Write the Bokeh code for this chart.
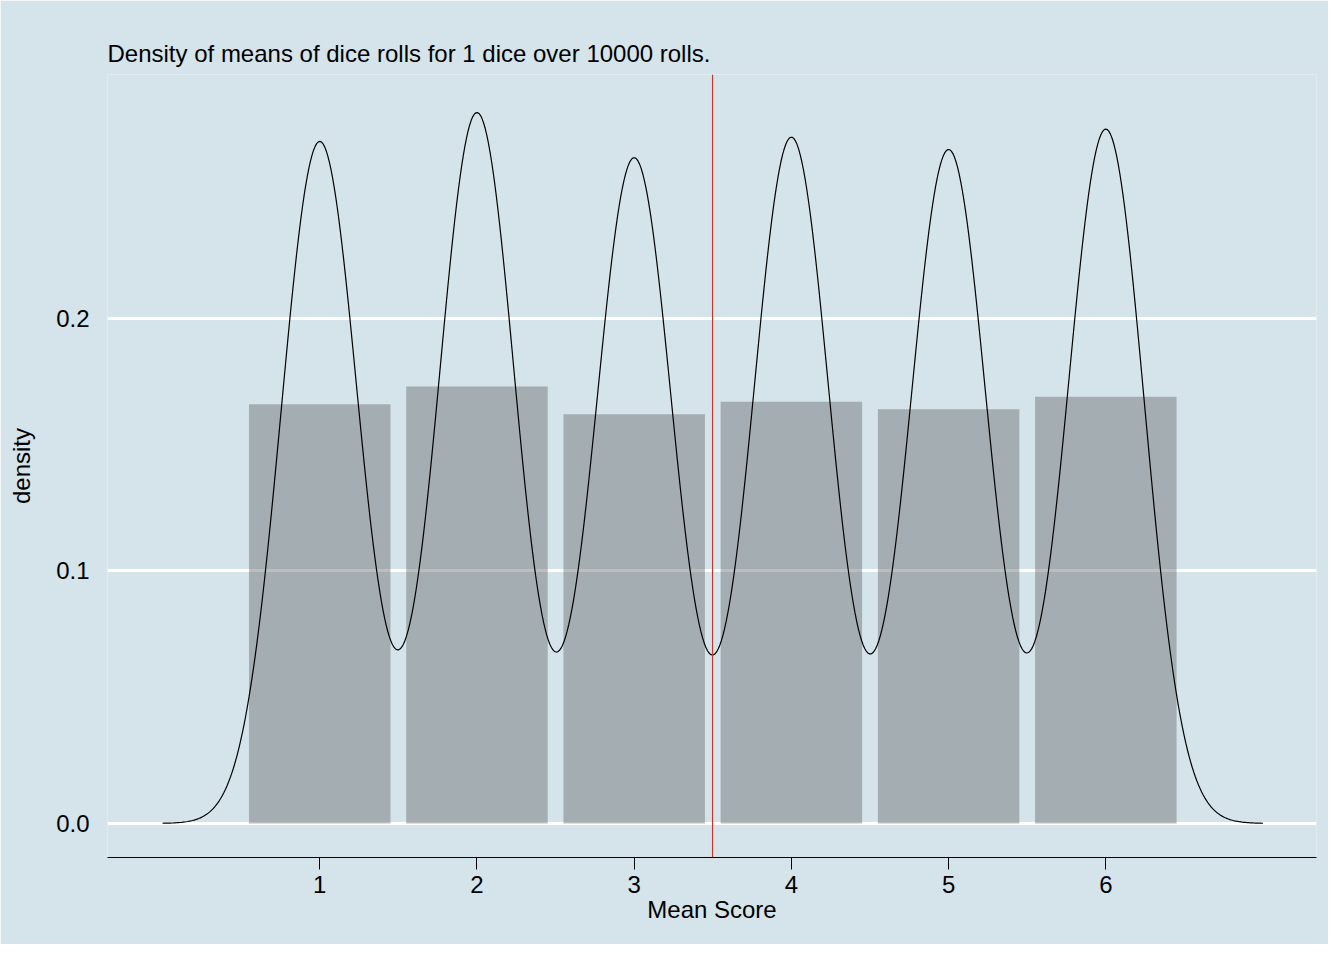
import numpy as np
from bokeh.plotting import figure
from bokeh.models import Range1d, Span, FixedTicker, Title
from bokeh.embed import file_html
from bokeh.resources import INLINE

faces = [1, 2, 3, 4, 5, 6]
density = [0.166, 0.173, 0.162, 0.167, 0.164, 0.169]
mean_score = 3.4985
bandwidth = 0.245
n_rolls = 10000

# gaussian kernel density of the rolls (weights from the histogram)
w = np.array(density) / sum(density)
xs = np.linspace(min(faces) - 1.0, max(faces) + 1.0, 700)
ys = np.zeros_like(xs)
for f, wt in zip(faces, w):
    ys += wt * np.exp(-0.5 * ((xs - f) / bandwidth) ** 2) / (bandwidth * np.sqrt(2 * np.pi))

bg = "#d5e4eb"
font = "Liberation Sans"

p = figure(width=1328, height=944, output_backend="svg", toolbar_location=None,
           x_range=Range1d(-0.35, 7.34), y_range=Range1d(-0.0135, 0.2966),
           min_border_left=107, min_border_right=12, min_border_top=74, min_border_bottom=87)
p.background_fill_color = bg
p.border_fill_color = bg
p.outline_line_color = None

p.add_layout(Title(text=f"Density of means of dice rolls for 1 dice over {n_rolls} rolls.",
                   text_font=font, text_font_size="24px", text_font_style="normal",
                   text_color="black", offset=0, standoff=16), "above")

p.xgrid.grid_line_color = None
p.ygrid.grid_line_color = "white"
p.ygrid.grid_line_width = 3
p.ygrid.ticker = FixedTicker(ticks=[0, 0.1, 0.2])

p.vbar(x=faces, top=density, width=0.9, fill_color="#595959", fill_alpha=0.4, line_color=None)
p.line(xs, ys, line_color="black", line_width=1.2)
p.add_layout(Span(location=mean_score, dimension="height", line_color="#c0392b", line_width=1.2))

p.xaxis.ticker = FixedTicker(ticks=faces)
p.xaxis.axis_label = "Mean Score"
p.xaxis.axis_line_color = "black"
p.xaxis.axis_line_width = 1.2
p.xaxis.major_tick_line_color = "black"
p.xaxis.major_tick_in = 0
p.xaxis.major_tick_out = 12
p.xaxis.minor_tick_line_color = None
p.xaxis.major_label_standoff = 6
p.xaxis.axis_label_standoff = 0

p.yaxis.ticker = FixedTicker(ticks=[0, 0.1, 0.2])
p.yaxis.major_label_overrides = {0: "0.0", 0.1: "0.1", 0.2: "0.2"}
p.yaxis.axis_label = "density"
p.yaxis.axis_line_color = None
p.yaxis.major_tick_line_color = None
p.yaxis.minor_tick_line_color = None
p.yaxis.major_label_standoff = 12
p.yaxis.axis_label_standoff = 18

for ax in (p.xaxis, p.yaxis):
    ax.major_label_text_font = font
    ax.major_label_text_font_size = "24px"
    ax.major_label_text_color = "black"
    ax.axis_label_text_font = font
    ax.axis_label_text_font_size = "24px"
    ax.axis_label_text_font_style = "normal"
    ax.axis_label_text_color = "black"

open("out.html", "w").write(file_html(p, INLINE))
